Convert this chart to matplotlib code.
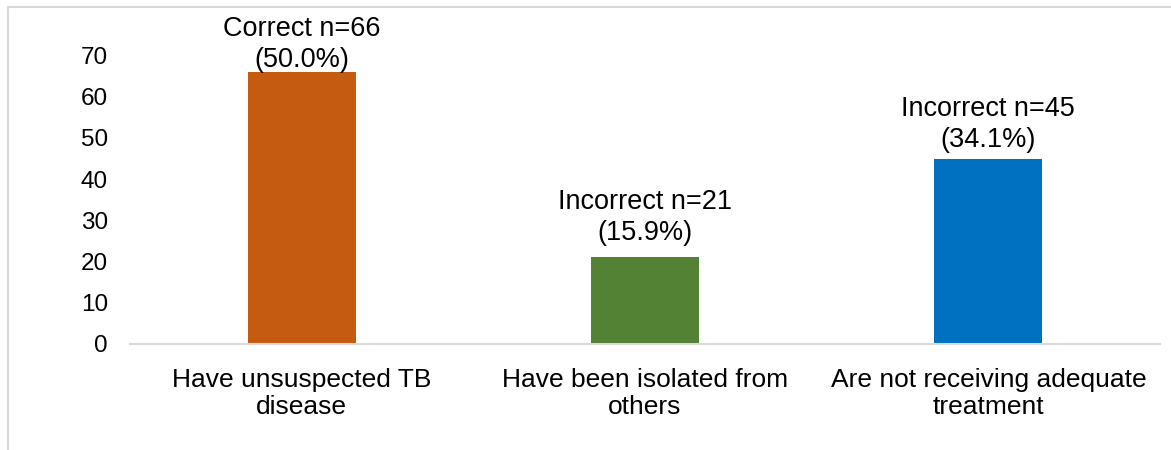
import matplotlib.pyplot as plt
from matplotlib.lines import Line2D

plt.rcParams['font.family'] = ['Liberation Sans', 'DejaVu Sans']

categories = ["Have unsuspected TB\ndisease",
              "Have been isolated from\nothers",
              "Are not receiving adequate\ntreatment"]
counts = [66, 21, 45]
labels = ["Correct n=66\n(50.0%)", "Incorrect n=21\n(15.9%)", "Incorrect n=45\n(34.1%)"]
colors = ["#C55A11", "#548235", "#0070C0"]
yticks = [0, 10, 20, 30, 40, 50, 60, 70]

fig = plt.figure(figsize=(11.71, 4.5), dpi=100)
ax = fig.add_axes([130 / 1171, 1 - 344 / 450, 1030 / 1171, 288.5 / 450])

x = range(len(categories))
ax.bar(x, counts, width=0.315, color=colors, zorder=2)

# label gap above each bar (points); the first one sits tight under the frame
gaps = [-1, 8, 4]
for xi, c, lab, g in zip(x, counts, labels, gaps):
    ax.annotate(lab, (xi, c), xytext=(0, g), textcoords="offset points",
                ha="center", va="bottom", fontsize=19.5, linespacing=1.25)

ax.set_xlim(-0.5, 2.5)
ax.set_ylim(0, 70)
ax.set_yticks(yticks)
ax.set_xticks(list(x))
ax.set_xticklabels(categories, fontsize=19, linespacing=1.2)
ax.tick_params(axis="y", length=0, labelsize=17.5, pad=16)
ax.tick_params(axis="x", length=0, pad=17)
for s in ["top", "right", "left"]:
    ax.spines[s].set_visible(False)
ax.spines["bottom"].set_color("#d9d9d9")
ax.spines["bottom"].set_linewidth(1.5)

# outer frame (top and left edges)
fig.add_artist(Line2D([8 / 1171, 1], [1 - 7 / 450] * 2, color="#d9d9d9", lw=1.5))
fig.add_artist(Line2D([8 / 1171] * 2, [0, 1 - 7 / 450], color="#d9d9d9", lw=1.5))

fig.savefig("out.png", dpi=100)
